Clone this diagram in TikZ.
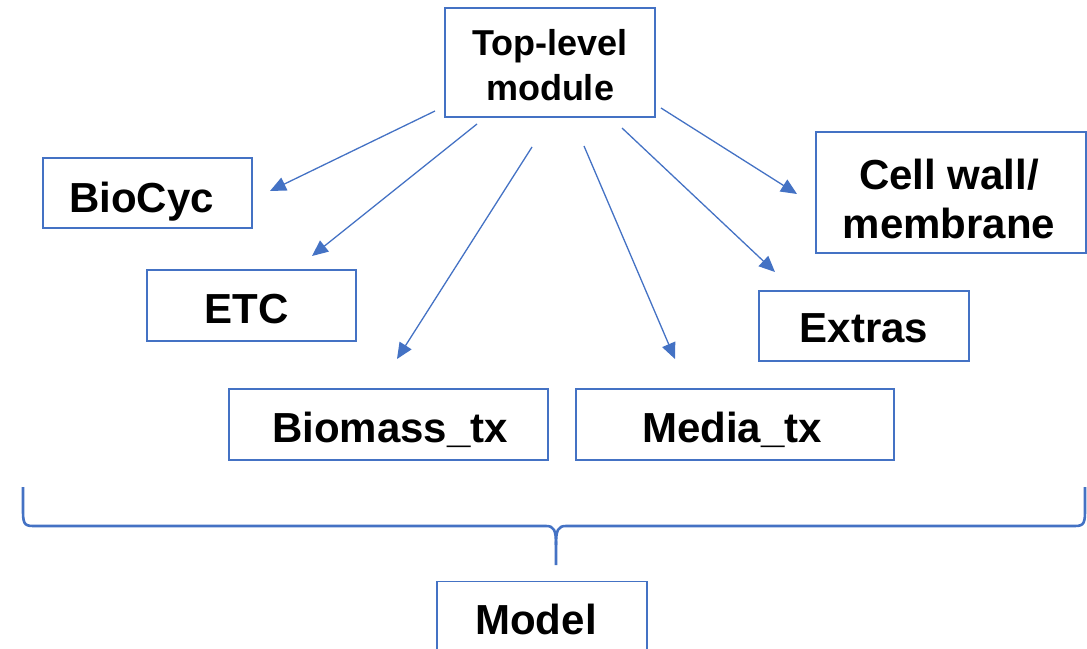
\documentclass[tikz,border=0pt]{standalone}
\usepackage{fontspec}
\setmainfont{Liberation Sans}
\usetikzlibrary{arrows.meta}
\definecolor{accent}{RGB}{68,114,196}
\tikzset{
  box/.style={draw=accent, line width=1.2pt, fill=white, inner sep=0pt},
  lbl/.style={inner sep=0pt, align=center, anchor=base, font=\bfseries\fontsize{42}{49}\selectfont},
  conn/.style={draw=accent, line width=1.3pt, -{Triangle[length=16pt,width=14pt]}},
  bracepath/.style={draw=accent, line width=2.6pt, line join=round}
}
\begin{document}
\begin{tikzpicture}[x=1pt,y=-1pt]
\useasboundingbox (0,0) rectangle (1087,648);
\clip (0,0) rectangle (1087,648);
% boxes
\node[box, minimum width=210pt, minimum height=109pt] (top) at (550,62.5) {};
\node[box, minimum width=209pt, minimum height=70pt] (biocyc) at (147.5,193) {};
\node[box, minimum width=209pt, minimum height=71pt] (etc) at (251.5,305.5) {};
\node[box, minimum width=319pt, minimum height=71pt] (biomass) at (388.5,424.5) {};
\node[box, minimum width=318pt, minimum height=71pt] (media) at (735,424.5) {};
\node[box, minimum width=210pt, minimum height=70pt] (extras) at (864,326) {};
\node[box, minimum width=270pt, minimum height=121pt] (cellwall) at (951,192.5) {};
\node[box, minimum width=210pt, minimum height=90pt, anchor=north] (model) at (542,581) {};
% labels (base anchor = baseline of the last line)
\node[lbl, font=\bfseries\fontsize{36}{45}\selectfont] (toptext) at (550,100) {Top-level\\module};
\node[lbl] (biocyctext) at (141.5,212) {BioCyc};
\node[lbl] (etctext) at (246.5,323) {ETC};
\node[lbl] (biomasstext) at (390,442) {Biomass\_tx};
\node[lbl] (mediatext) at (732,442) {Media\_tx};
\node[lbl] (extrastext) at (864,342) {Extras};
\node[lbl] (cellwalltext) at (949,238) {Cell wall/\\membrane};
\node[lbl] (modeltext) at (536,634) {Model};
% connectors
\coordinate (s1) at (435,111); \coordinate (e1) at (270,191);
\coordinate (s2) at (477,124); \coordinate (e2) at (312,256);
\coordinate (s3) at (532,147); \coordinate (e3) at (397,359);
\coordinate (s4) at (584,146); \coordinate (e4) at (675,359);
\coordinate (s5) at (622,128); \coordinate (e5) at (775,272);
\coordinate (s6) at (661,108); \coordinate (e6) at (797,194);
\draw[conn] (s1) -- (e1);
\draw[conn] (s2) -- (e2);
\draw[conn] (s3) -- (e3);
\draw[conn] (s4) -- (e4);
\draw[conn] (s5) -- (e5);
\draw[conn] (s6) -- (e6);
% brace
\coordinate (bl) at (23,487);
\coordinate (br) at (1085,487);
\coordinate (btip) at (556,565);
\draw[bracepath] (bl) -- (23,512) .. controls (23,526) and (26,526) .. (36,526)
  -- (546,526) .. controls (554,526) and (556,530) .. (556,545) -- (btip);
\draw[bracepath] (br) -- (1085,512) .. controls (1085,526) and (1082,526) .. (1072,526)
  -- (566,526) .. controls (558,526) and (556,530) .. (556,545);
\end{tikzpicture}
\end{document}
